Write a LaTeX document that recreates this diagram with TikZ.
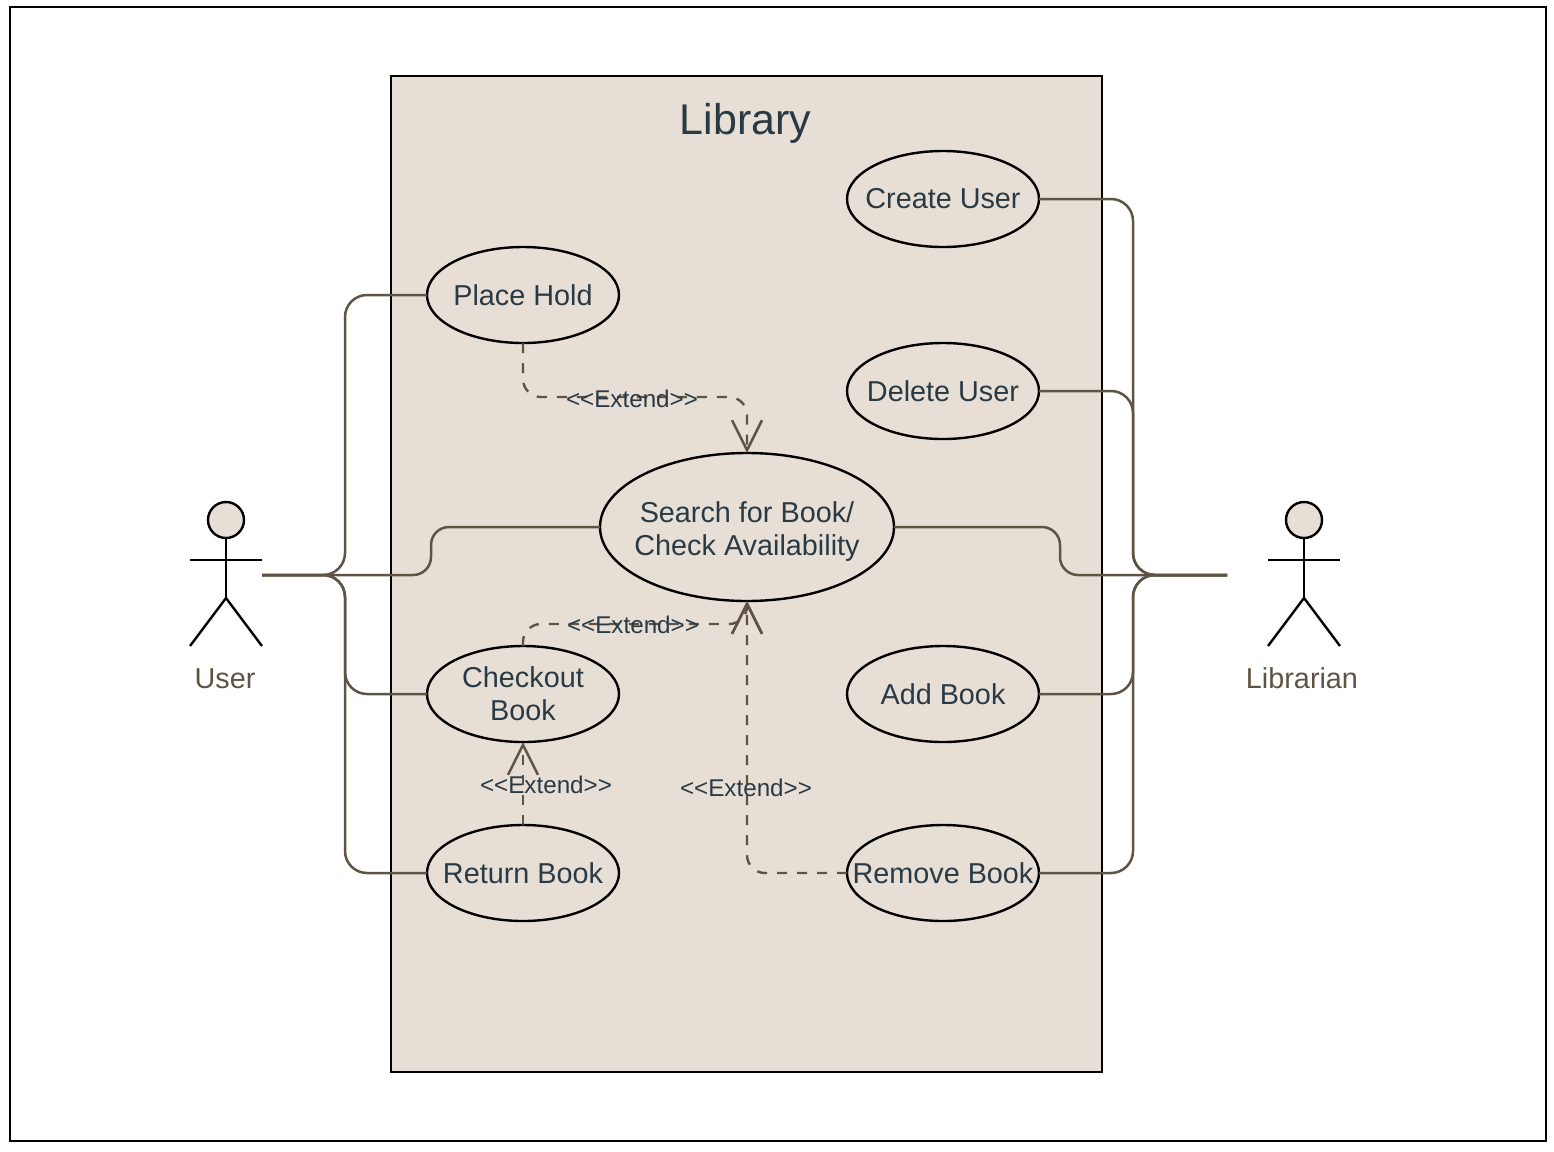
\documentclass[tikz,border=0pt]{standalone}
\usepackage{fontspec}
\setmainfont{Liberation Sans}
\usetikzlibrary{arrows.meta,shapes.geometric,calc}
\definecolor{sand}{HTML}{E7DFD6}
\definecolor{umber}{HTML}{5F5444}
\definecolor{slate}{HTML}{2A3A45}
\tikzset{
  system/.style  = {draw, line width=1.2pt, fill=sand, inner sep=0pt, outer sep=0pt},
  usecase/.style = {draw, ellipse, line width=1.2pt, fill=sand, inner xsep=-20pt, inner ysep=-5pt,
                    outer sep=0pt, minimum width=96pt, minimum height=48pt, align=center,
                    text=slate, font=\fontsize{14.4}{16.5}\selectfont},
  head/.style    = {draw, circle, line width=1.2pt, fill=sand, inner sep=0pt, outer sep=0pt,
                    minimum size=18pt},
  limb/.style    = {line width=1.2pt},
  assoc/.style   = {line width=1.25pt, umber, rounded corners=11pt},
  ext/.style     = {-{Straight Barb[length=15pt,width=15pt,line width=1.25pt]}, line width=1.2pt,
                    umber, rounded corners=9pt, dash pattern=on 5pt off 5pt},
  extlabel/.style= {font=\fontsize{12.1}{14}\selectfont, text=slate, inner sep=0pt},
  actorname/.style={font=\fontsize{14.4}{16.5}\selectfont, text=umber, inner sep=0pt}
}
\begin{document}
\begin{tikzpicture}[x=0.5pt,y=-0.5pt]
  \useasboundingbox (0,0) rectangle (1554,1152);
  \node[system, fill=none, minimum width=768pt, minimum height=567pt] (frame) at (778,574) {};
  \node[system, minimum width=355.5pt, minimum height=498pt] (library) at (746.5,574) {};
  \node[inner sep=0pt, text=slate, font=\fontsize{21.5}{26}\selectfont] (title) at (745.5,123) {Library};

  % use cases
  \node[usecase] (create) at (943,199) {Create User};
  \node[usecase] (delete) at (943,391) {Delete User};
  \node[usecase] (hold) at (523,295) {Place Hold};
  \node[usecase, minimum width=147pt, minimum height=74pt] (search) at (747,527)
    {\rule{0pt}{15pt}Search for Book/\\Check Availability};
  \node[usecase] (checkout) at (523,694) {Checkout\\Book};
  \node[usecase] (add) at (943,694) {Add Book};
  \node[usecase] (return) at (523,873) {Return Book};
  \node[usecase] (remove) at (943,873) {Remove Book};

  % actors
  \foreach \who/\x in {user/226, librarian/1304} {
    \node[head] (\who head) at (\x,520) {};
    \coordinate (\who hip) at (\x,598);
    \draw[limb] (\who head.south) -- (\who hip);
    \draw[limb] (\x-36,560) -- (\x+36,560);
    \draw[limb] (\x-36,646) -- (\who hip) -- (\x+36,646);
  }
  \node[actorname] (username) at (225,679) {User};
  \node[actorname] (librarianname) at (1302,678) {Librarian};

  % associations
  \coordinate (userport) at (262,575);
  \coordinate (librarianport) at (1227,575);
  \coordinate (userbus) at (345,575);
  \coordinate (librarianbus) at (1133,575);
  \foreach \uc in {hold, checkout, return}
    \draw[assoc] (userport) -- (userbus) -- (userbus |- \uc.west) -- (\uc.west);
  \foreach \uc in {create, delete, add, remove}
    \draw[assoc] (\uc.east) -- (librarianbus |- \uc.east) -- (librarianbus) -- (librarianport);
  \draw[assoc, rounded corners=9pt] (userport) -- (431,575) -- (431,527) -- (search.west);
  \draw[assoc, rounded corners=9pt] (search.east) -- (1060,527) -- (1060,575) -- (librarianport);

  % extends
  \draw[ext] (hold.south) -- (523,397) -- (747,397) -- (search.north);
  \draw[ext] (checkout.north) -- (523,624) -- (747,624) -- (search.south);
  \draw[ext] (return.north) -- (checkout.south);
  \draw[ext] (remove.west) -- (747,873) -- (search.south);
  \node[extlabel] (holdext) at (632,399) {<{}<Extend>{}>};
  \node[extlabel] (checkoutext) at (633,625) {<{}<Extend>{}>};
  \node[extlabel] (returnext) at (546,785) {<{}<Extend>{}>};
  \node[extlabel] (removeext) at (746,788) {<{}<Extend>{}>};
\end{tikzpicture}
\end{document}
